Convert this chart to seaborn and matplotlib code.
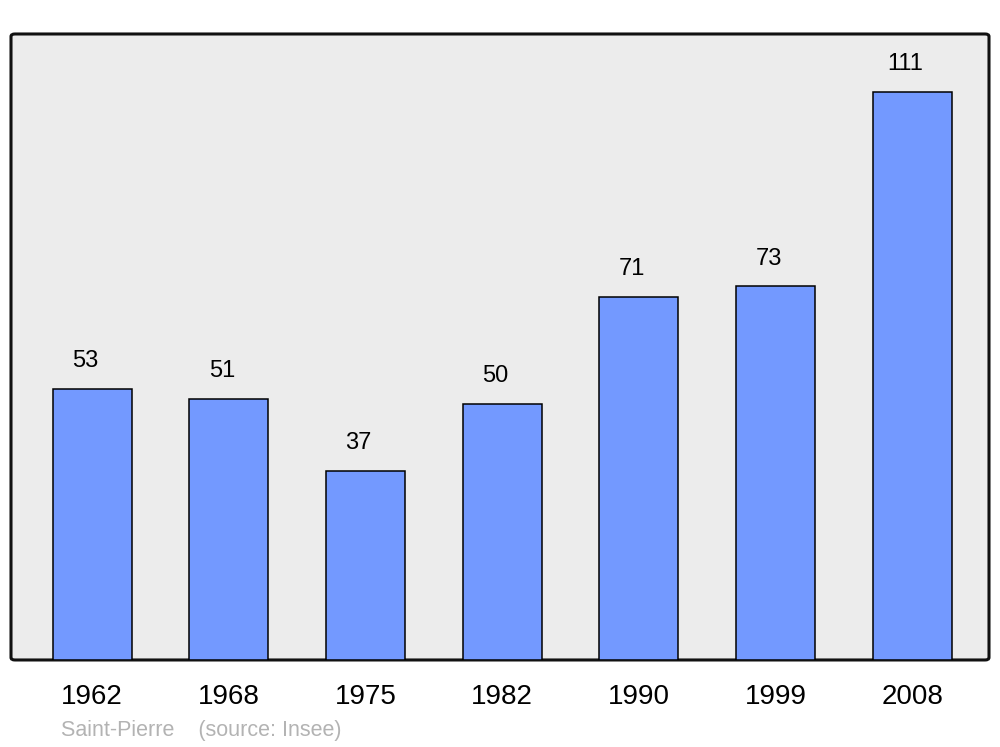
import matplotlib
matplotlib.use('Agg')
import matplotlib.pyplot as plt
import seaborn as sns
import pandas as pd
from matplotlib.patches import FancyBboxPatch

years = ['1962', '1968', '1975', '1982', '1990', '1999', '2008']
population = [53, 51, 37, 50, 71, 73, 111]

sns.set_style('white')
plt.rcParams['font.family'] = ['Liberation Sans', 'DejaVu Sans']
plt.rcParams['text.color'] = 'black'
plt.rcParams['xtick.color'] = 'black'

df = pd.DataFrame({'year': years, 'pop': population})

fig = plt.figure(figsize=(10, 7.47), dpi=100)
ax = fig.add_axes([0.011, 0.1165, 0.978, 0.838])
ax.set_facecolor('none')

# rounded grey frame like the original
frame = FancyBboxPatch((0, 0), 1, 1, boxstyle='round,pad=0,rounding_size=0.004',
                       transform=ax.transAxes, facecolor='#ececec',
                       edgecolor='#111111', linewidth=2.2, zorder=0, clip_on=False)
ax.add_patch(frame)

sns.barplot(data=df, x='year', y='pop', color='#7399ff', saturation=1,
            width=0.578, edgecolor='black', linewidth=1.1, ax=ax, zorder=2)

for i, v in enumerate(population):
    ax.annotate(str(v), (i, v), xytext=(-5, 20), textcoords='offset points',
                ha='center', va='center', fontsize=17, color='black')

ax.set_xlim(-0.593, 6.562)
ax.set_ylim(0, 122.3)
ax.set_yticks([])
ax.set_xlabel('')
ax.set_ylabel('')
for s in ax.spines.values():
    s.set_visible(False)
ax.tick_params(axis='x', length=0, labelsize=20, pad=17, labelcolor='black')
for lbl in ax.get_xticklabels():
    lbl.set_x(lbl.get_position()[0])

fig.text(0.061, 0.0225, 'Saint-Pierre    (source: Insee)', color='#b3b3b3',
         fontsize=15.5, ha='left', va='center')

fig.savefig('out.png', dpi=100, facecolor='white')
